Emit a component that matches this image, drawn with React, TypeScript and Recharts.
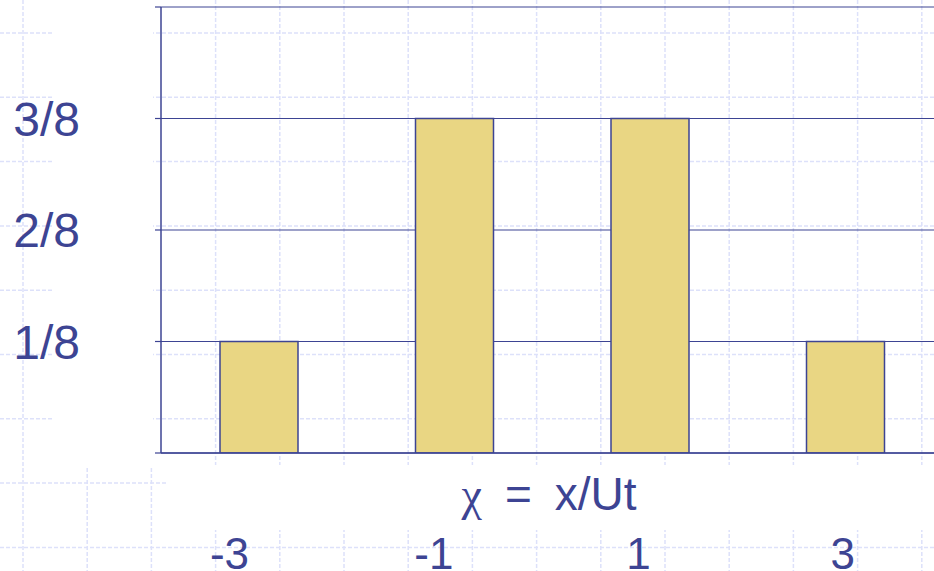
import React from 'react';
import { BarChart, Bar, XAxis, YAxis, CartesianGrid, Label } from 'recharts';

// Distribution of the scaled position chi = x/Ut after three steps
const chiValues = [-3, -1, 1, 3];
const probabilities = [1 / 8, 3 / 8, 3 / 8, 1 / 8];

const yTicks = [0, 1 / 8, 2 / 8, 3 / 8, 4 / 8];
const yTickLabels = ['', '1/8', '2/8', '3/8', ''];

const xBoundaryTicks = [-4, -2, 0, 2, 4];
const xLabelTicks = [-3, -1, 1, 3];

const data = chiValues.map((chi, i) => ({ chi, p: probabilities[i] }));

const INK = '#3d4493';
const BAR_FILL = '#e9d683';
const PAPER = '#dde1fa';
const FONT = '"Liberation Sans", Arial, sans-serif';

const W = 934;
const H = 571;

function GraphPaper() {
  const xs: number[] = [];
  for (let x = 23; x < W; x += 64.2) xs.push(x);
  const ys: number[] = [];
  for (let y = 33; y < H; y += 64.3) ys.push(y);
  return (
    <svg width={W} height={H} style={{ position: 'absolute', left: 0, top: 0 }}>
      <rect x={0} y={0} width={W} height={H} fill="#ffffff" />
      {xs.map((x) => (
        <line key={'v' + x} x1={x} x2={x} y1={0} y2={H} stroke={PAPER} strokeWidth={1.5} strokeDasharray="4 2" />
      ))}
      {ys.map((y) => (
        <line key={'h' + y} x1={0} x2={W} y1={y} y2={y} stroke={PAPER} strokeWidth={1.5} strokeDasharray="4 2" />
      ))}
      {/* white text boxes sitting on the paper */}
      <rect x={53} y={0} width={100} height={466} fill="#ffffff" />
      <rect x={167} y={465} width={W - 167} height={65} fill="#ffffff" />
    </svg>
  );
}

const AxisTitle = (props: any) => {
  const { x, y, width } = props.viewBox;
  return (
    <text x={x + width / 2 - 3} y={y + 57} textAnchor="middle" fill={INK} fontSize={46} fontFamily={FONT}>
      <tspan fontFamily='"Liberation Serif", serif'>χ</tspan>
      {'\u2002=\u2002x/Ut'}
    </text>
  );
};

export default function App() {
  return (
    <div
      style={{
        position: 'fixed',
        left: 0,
        top: 0,
        width: W,
        height: H,
        overflow: 'hidden',
        background: '#ffffff',
      }}
    >
      <GraphPaper />
      <div style={{ position: 'absolute', left: 0, top: 0 }}>
        <BarChart width={950} height={600} data={data} margin={{ top: 7, right: 7, left: 0, bottom: 0 }}>
          <CartesianGrid vertical={false} stroke={INK} strokeWidth={1} />
          <XAxis
            dataKey="chi"
            type="number"
            domain={[-4, 4]}
            allowDataOverflow
            ticks={xBoundaryTicks}
            interval={0}
            tick={false}
            tickSize={6}
            height={70}
            axisLine={{ stroke: INK, strokeWidth: 1.5 }}
            tickLine={{ stroke: INK, strokeWidth: 1.2 }}
          >
            <Label content={AxisTitle} />
          </XAxis>
          <XAxis
            xAxisId="lbl"
            dataKey="chi"
            type="number"
            domain={[-3.67, 3.98]}
            allowDataOverflow
            ticks={xLabelTicks}
            interval={0}
            axisLine={false}
            tickLine={false}
            tickSize={0}
            tickMargin={15}
            height={77}
            tick={{ fill: INK, fontSize: 44, fontFamily: FONT }}
            tickFormatter={(v: number) => String(v)}
          />
          <YAxis
            type="number"
            domain={[0, 0.5]}
            allowDataOverflow
            ticks={yTicks}
            interval={0}
            width={161}
            tickSize={6}
            tickMargin={75}
            axisLine={{ stroke: INK, strokeWidth: 1.5 }}
            tickLine={{ stroke: INK, strokeWidth: 1.2 }}
            tick={{ fill: INK, fontSize: 48, fontFamily: FONT }}
            tickFormatter={(v: number) => {
              const i = yTicks.findIndex((t) => Math.abs(t - v) < 1e-9);
              return i >= 0 ? yTickLabels[i] : '';
            }}
          />
          <Bar dataKey="p" fill={BAR_FILL} stroke={INK} strokeWidth={1.5} barSize={78} isAnimationActive={false} />
        </BarChart>
      </div>
    </div>
  );
}
